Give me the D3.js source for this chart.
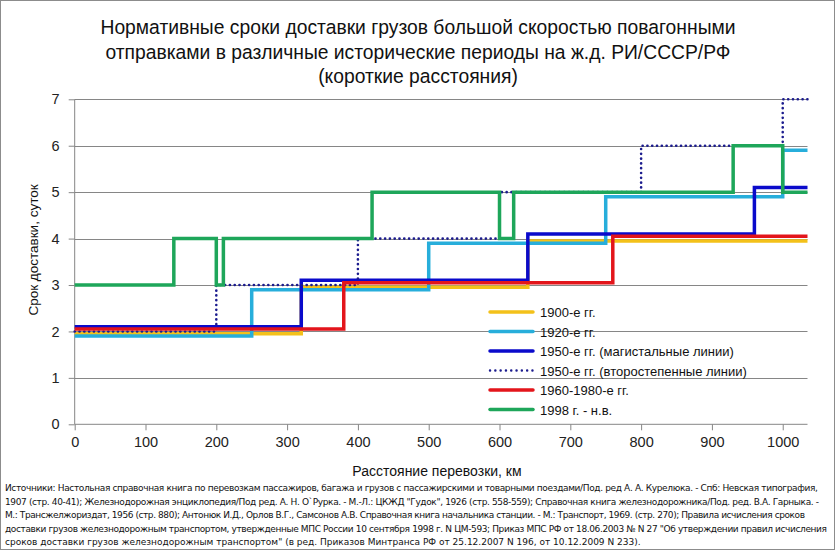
<!DOCTYPE html>
<html>
<head>
<meta charset="utf-8">
<script src="https://cdn.jsdelivr.net/npm/d3@7"></script>
<style>
    body { margin: 0; background: #fff; }
    svg { display: block; }
</style>
</head>
<body>
<div id="chart"></div>
<script>
"use strict"

// chart data (step functions: distance breakpoints and days level after each break)
var titleLines = [
    "Нормативные сроки доставки грузов большой скоростью повагонными",
    "отправками в различные исторические периоды на ж.д. РИ/СССР/РФ",
    "(короткие расстояния)"
]
var seriesNames = [
    "1900-е гг.",
    "1920-е гг.",
    "1950-е гг. (магистальные линии)",
    "1950-е гг. (второстепенные линии)",
    "1960-1980-е гг.",
    "1998 г. - н.в."
]
var x1900 = [0, 320, 640, 1035]
var y1900 = [1.95, 2.95, 3.95, 3.95]
var x1920 = [0, 250, 500, 750, 1000, 1035]
var y1920 = [1.9, 2.9, 3.9, 4.9, 5.9, 5.9]
var x1950main = [0, 320, 640, 960, 1035]
var y1950main = [2.1, 3.1, 4.1, 5.1, 5.1]
var x1950sec = [0, 200, 400, 600, 800, 1000, 1035]
var y1950sec = [2, 3, 4, 5, 6, 7, 7]
var x1960 = [0, 380, 760, 1035]
var y1960 = [2.05, 3.05, 4.05, 4.05]
var x1998 = [0, 140, 200, 210, 420, 600, 620, 930, 1000, 1035]
var y1998 = [3, 4, 3, 4, 5, 4, 5, 6, 5, 5]

var xTicks = [0, 100, 200, 300, 400, 500, 600, 700, 800, 900, 1000]
var yTicks = [0, 1, 2, 3, 4, 5, 6, 7]

var sourceLines = [
    "Источники: Настольная справочная книга по перевозкам пассажиров, багажа и грузов с пассажирскими и товарными поездами/Под. ред А. А. Курелюка. - Спб: Невская типография,",
    "1907 (стр. 40-41); Железнодорожная энциклопедия/Под ред. А. Н. О`Рурка. - М.-Л.: ЦКЖД \"Гудок\", 1926 (стр. 558-559); Справочная книга железнодорожника/Под. ред. В.А. Гарныка. -",
    "М.: Трансжелжориздат, 1956 (стр. 880); Антонюк И.Д., Орлов В.Г., Самсонов А.В. Справочная книга начальника станции. - М.: Транспорт, 1969. (стр. 270); Правила исчисления сроков",
    "доставки грузов железнодорожным транспортом, утвержденные МПС России 10 сентября 1998 г. N ЦМ-593; Приказ МПС РФ от 18.06.2003 № N 27 \"Об утверждении правил исчисления",
    "сроков доставки грузов железнодорожным транспортом\" (в ред. Приказов Минтранса РФ от 25.12.2007 N 196, от 10.12.2009 N 233)."
]
var sourceWidths = [813, 814, 800, 822, null]

var settings = {
    width: 835,
    height: 550,
    left: 74.7,
    right: 807.5,
    top: 99.3,
    bottom: 424.3,
    axisColor: "#868686",
    font: "'Liberation Sans', Arial, sans-serif"
}

var series = [
    { name: seriesNames[0], xs: x1900, ys: y1900, color: "#F3C11A", dash: null },
    { name: seriesNames[1], xs: x1920, ys: y1920, color: "#27AEDB", dash: null },
    { name: seriesNames[2], xs: x1950main, ys: y1950main, color: "#0A0ACB", dash: null },
    { name: seriesNames[3], xs: x1950sec, ys: y1950sec, color: "#1C1C8E", dash: "0.1,4.7" },
    { name: seriesNames[4], xs: x1960, ys: y1960, color: "#E3151B", dash: null },
    { name: seriesNames[5], xs: x1998, ys: y1998, color: "#1EA65A", dash: null }
]

var svg = d3.select("#chart").append("svg")
    .attr("width", settings.width)
    .attr("height", settings.height)

svg.append("rect")
    .attr("x", 0.5).attr("y", 0.5)
    .attr("width", settings.width - 1)
    .attr("height", settings.height - 1)
    .attr("fill", "#fff")
    .attr("stroke", "#8c8c8c")

var scale_x = d3.scaleLinear().domain([0, 1035]).range([settings.left, settings.right])
var scale_y = d3.scaleLinear().domain([0, 7]).range([settings.bottom, settings.top])

// title
svg.append("g").selectAll("text")
    .data(titleLines)
    .enter()
    .append("text")
    .attr("x", 418)
    .attr("y", function(d, i) { return 34 + i * 24.5 })
    .attr("text-anchor", "middle")
    .attr("font-family", "'Liberation Sans Narrow', 'Arial Narrow', sans-serif")
    .attr("font-size", 19.3)
    .attr("fill", "#111")
    .text(function(d) { return d })

// gridlines
svg.append("g").selectAll("line")
    .data(yTicks.filter(function(d) { return d > 0 }))
    .enter()
    .append("line")
    .attr("x1", settings.left)
    .attr("x2", settings.right)
    .attr("y1", function(d) { return Math.round(scale_y(d)) + 0.5 })
    .attr("y2", function(d) { return Math.round(scale_y(d)) + 0.5 })
    .attr("stroke", settings.axisColor)

// axes
var xaxis = d3.axisBottom(scale_x).tickValues(xTicks).tickFormat(d3.format("d"))
    .tickSize(6).tickPadding(6)
var yaxis = d3.axisLeft(scale_y).tickValues(yTicks).tickFormat(d3.format("d"))
    .tickSize(6).tickPadding(9)

var gx = svg.append("g")
    .attr("transform", "translate(0," + settings.bottom + ")")
    .call(xaxis)
var gy = svg.append("g")
    .attr("transform", "translate(" + settings.left + ",0)")
    .call(yaxis)

gx.select(".domain").attr("d", "M" + settings.left + ",0H" + settings.right)
gy.select(".domain").attr("d", "M0," + settings.bottom + "V" + settings.top)

svg.selectAll(".domain, .tick line").attr("stroke", settings.axisColor)
svg.selectAll(".tick text")
    .attr("font-family", settings.font)
    .attr("font-size", 14.5)
    .attr("fill", "#222")

// axis titles
svg.append("text")
    .attr("x", 437)
    .attr("y", 476)
    .attr("text-anchor", "middle")
    .attr("font-family", settings.font)
    .attr("font-size", 14)
    .attr("fill", "#111")
    .text("Расстояние перевозки,  км")

svg.append("text")
    .attr("transform", "translate(38,250) rotate(-90)")
    .attr("text-anchor", "middle")
    .attr("font-family", settings.font)
    .attr("font-size", 13.5)
    .attr("fill", "#111")
    .text("Срок доставки, суток")

// step lines
var linefunc = d3.line()
    .x(function(d) { return scale_x(d.x) })
    .y(function(d) { return scale_y(d.y) })
    .curve(d3.curveStepAfter)

series.forEach(function(s) {
    var data = s.xs.map(function(x, i) { return { x: x, y: s.ys[i] } })
    var path = svg.append("path")
        .attr("d", linefunc(data))
        .attr("fill", "none")
        .attr("stroke", s.color)
    if (s.dash) {
        path.attr("stroke-width", 2.6)
            .attr("stroke-dasharray", s.dash)
            .attr("stroke-linecap", "round")
    } else {
        path.attr("stroke-width", 3.5)
            .attr("stroke-linejoin", "miter")
    }
})

// legend
var legend = svg.append("g")
var legendRows = legend.selectAll("g")
    .data(series)
    .enter()
    .append("g")
    .attr("transform", function(d, i) { return "translate(490," + (312 + i * 19.5) + ")" })

legendRows.append("line")
    .attr("x1", 0).attr("x2", 43)
    .attr("y1", 0).attr("y2", 0)
    .attr("stroke", function(d) { return d.color })
    .attr("stroke-width", function(d) { return d.dash ? 2.4 : 3.5 })
    .attr("stroke-dasharray", function(d) { return d.dash ? "0.1,5.2" : null })
    .attr("stroke-linecap", "round")

legendRows.append("text")
    .attr("x", 50)
    .attr("y", 5)
    .attr("font-family", settings.font)
    .attr("font-size", 13)
    .attr("fill", "#111")
    .text(function(d) { return d.name })

// sources footnote
svg.append("g").selectAll("text")
    .data(sourceLines)
    .enter()
    .append("text")
    .attr("x", 5)
    .attr("y", function(d, i) { return 491 + i * 13.6 })
    .attr("font-family", "'DejaVu Sans', Tahoma, sans-serif")
    .attr("font-size", 9)
    .attr("fill", "#111")
    .attr("textLength", function(d, i) { return sourceWidths[i] })
    .attr("lengthAdjust", "spacing")
    .text(function(d) { return d })
</script>
</body>
</html>
